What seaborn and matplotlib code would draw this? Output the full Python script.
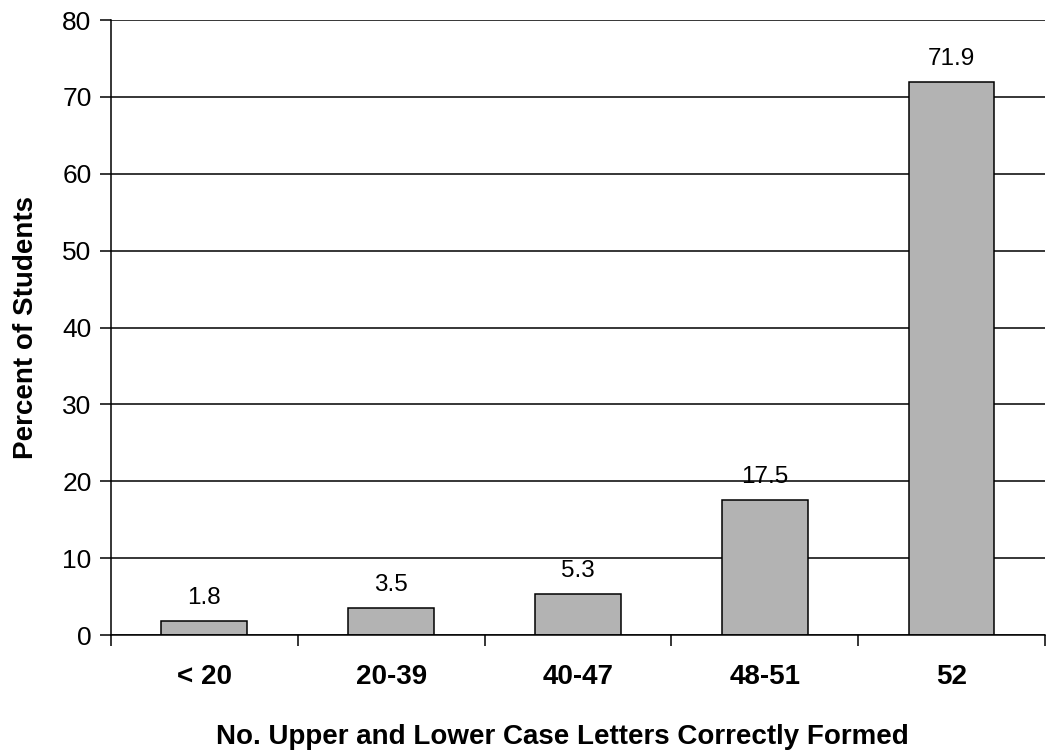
import matplotlib
matplotlib.use("Agg")
import matplotlib.pyplot as plt
import seaborn as sns
import pandas as pd

categories = ["< 20", "20-39", "40-47", "48-51", "52"]
percents = [1.8, 3.5, 5.3, 17.5, 71.9]
y_ticks = [0, 10, 20, 30, 40, 50, 60, 70, 80]

sns.set_theme(style="white")
plt.rcParams["font.family"] = ["Liberation Sans", "DejaVu Sans"]
plt.rcParams["text.color"] = "black"
plt.rcParams["axes.labelcolor"] = "black"
plt.rcParams["xtick.color"] = "black"
plt.rcParams["ytick.color"] = "black"

df = pd.DataFrame({"group": categories, "pct": percents})

fig = plt.figure(figsize=(10.47, 7.5), dpi=100)
ax = fig.add_axes([0.106, 0.1533, 0.892, 0.82])

sns.barplot(data=df, x="group", y="pct", order=categories, color="#b3b3b3",
            saturation=1, width=0.46, edgecolor="black", linewidth=1.1, ax=ax)

ax.set_ylim(0, 80)
ax.set_xlim(-0.5, len(categories) - 0.5)
ax.set_yticks(y_ticks)
ax.set_yticklabels([str(t) for t in y_ticks], fontsize=19)
ax.yaxis.grid(True, color="black", linewidth=1.1)
ax.set_axisbelow(True)

# category labels centred, tick marks on the boundaries between groups
ax.set_xticks(range(len(categories)))
ax.set_xticklabels(categories, fontsize=20, fontweight="bold")
ax.tick_params(axis="x", which="major", bottom=True, length=0, pad=21)
ax.set_xticks([i - 0.5 for i in range(len(categories) + 1)], minor=True)
ax.tick_params(axis="x", which="minor", bottom=True, length=8, width=1.1,
               color="black", direction="out")
ax.tick_params(axis="y", left=True, length=8, width=1.1, color="black",
               direction="out", pad=6)

for s in ["top", "right"]:
    ax.spines[s].set_visible(False)
for s in ["left", "bottom"]:
    ax.spines[s].set_color("black")
    ax.spines[s].set_linewidth(1.1)

for i, v in enumerate(percents):
    ax.text(i, v + 1.6, f"{v:.1f}", ha="center", va="bottom", fontsize=17.5)

ax.set_xlabel("No. Upper and Lower Case Letters Correctly Formed",
              fontsize=20, fontweight="bold")
ax.xaxis.set_label_coords(0.483, -0.145)
ax.set_ylabel("Percent of Students", fontsize=20, fontweight="bold", labelpad=17)

fig.savefig("out.png", dpi=100)
